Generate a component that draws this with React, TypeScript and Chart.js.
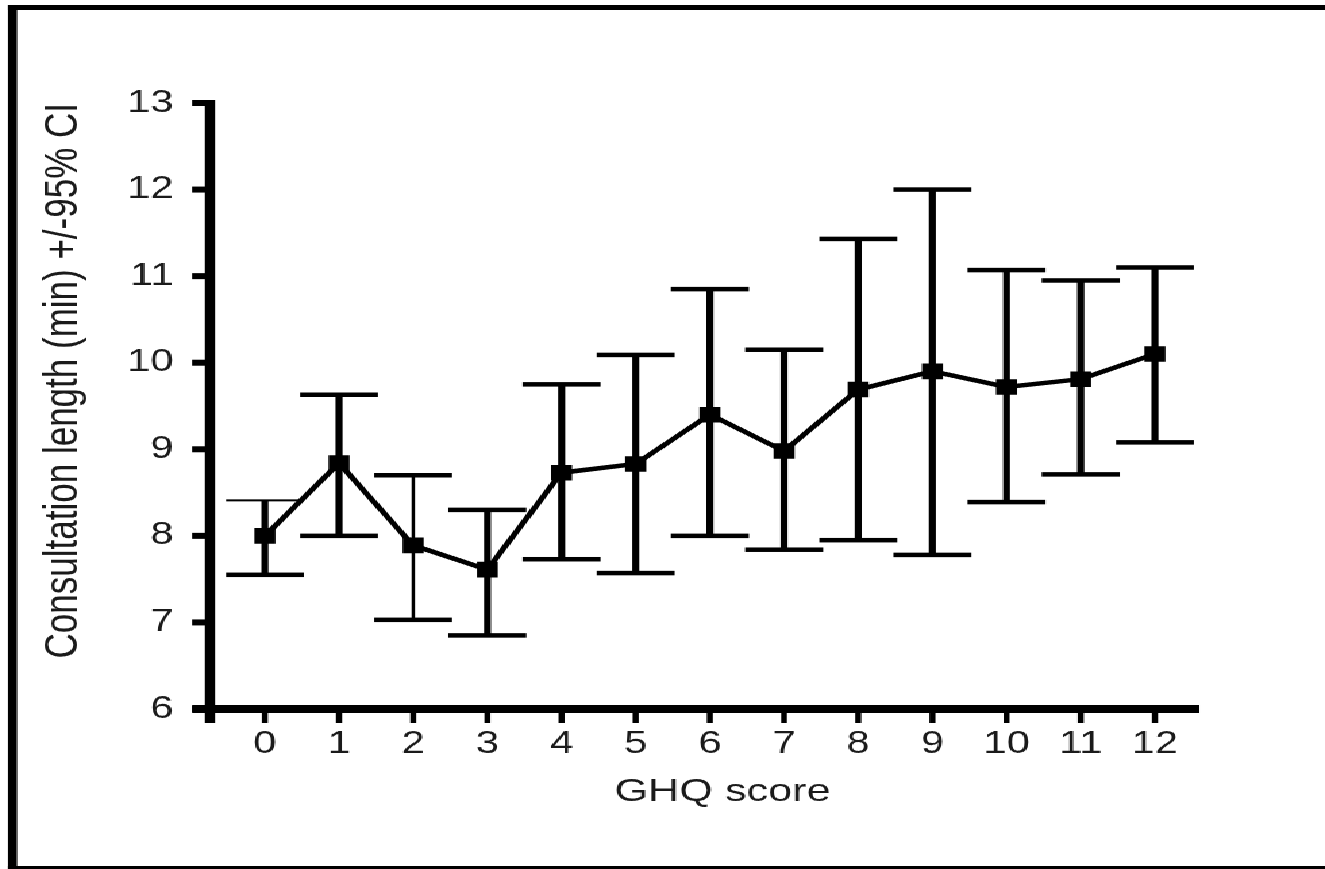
import { useEffect, useRef } from 'react';
import { Chart, registerables } from 'chart.js';

Chart.register(...registerables);

// ---- data ----
const ghqScores = [0, 1, 2, 3, 4, 5, 6, 7, 8, 9, 10, 11, 12];
const meanLength = [8.0, 8.84, 7.89, 7.61, 8.73, 8.83, 9.4, 8.98, 9.69, 9.9, 9.72, 9.81, 10.1];
const ciUpper = [8.41, 9.63, 8.7, 8.3, 9.75, 10.09, 10.85, 10.15, 11.43, 12.0, 11.07, 10.95, 11.1];
const ciLower = [7.55, 8.0, 7.03, 6.85, 7.73, 7.57, 8.0, 7.84, 7.95, 7.78, 8.39, 8.71, 9.08];
const xTickValues = [0, 1, 2, 3, 4, 5, 6, 7, 8, 9, 10, 11, 12];
const yTickValues = [6, 7, 8, 9, 10, 11, 12, 13];
const xTitle = 'GHQ score';
const yTitle = 'Consultation length (min) +/-95% CI';

// ---- layout (the reference is horizontally stretched; the canvas is drawn narrow and widened) ----
const PAGE_W = 1325;
const PAGE_H = 869;
const CANVAS_W = Math.round(PAGE_W / 1.35);
const S = PAGE_W / CANVAS_W;
const rx = (v: number) => v / S;

const FONT = "'Liberation Sans', Arial, Helvetica, sans-serif";
const NARROW = "'Liberation Sans Narrow', 'Liberation Sans', Arial, sans-serif";
const INK = '#000';
const TEXT = '#1a1a1a';

const framePlugin = {
  id: 'frame',
  beforeDraw(chart: any) {
    const ctx = chart.ctx;
    ctx.save();
    ctx.fillStyle = '#fff';
    ctx.fillRect(0, 0, chart.width, chart.height);
    ctx.fillStyle = INK;
    ctx.fillRect(rx(8), 5, rx(9), PAGE_H - 5);
    ctx.fillRect(rx(8), 5, chart.width, 5);
    ctx.fillRect(rx(8), 866, chart.width, 3);
    ctx.restore();
  },
};

const axesAndBarsPlugin = {
  id: 'axesAndBars',
  beforeDatasetsDraw(chart: any, _args: any, opts: any) {
    const ctx = chart.ctx;
    const xs = chart.scales.x;
    const ys = chart.scales.y;
    const x0 = chart.chartArea.left;
    const yTop = ys.getPixelForValue(yTickValues[yTickValues.length - 1]);
    const yb = ys.getPixelForValue(yTickValues[0]);
    ctx.save();
    ctx.fillStyle = INK;
    // y axis line (extends slightly below the x axis)
    ctx.fillRect(x0 - rx(5), yTop - 3, rx(10), yb + 14 - (yTop - 3));
    // x axis line
    const xEnd = xs.getPixelForValue(12.6);
    ctx.fillRect(x0 - rx(18), yb - 4, xEnd - (x0 - rx(18)), 8);
    // y ticks
    ys.ticks.forEach((t: any) => {
      const py = ys.getPixelForValue(t.value);
      ctx.fillRect(x0 - rx(18), py - 3, rx(18), 6);
    });
    // x ticks
    xs.ticks.forEach((t: any) => {
      const px = xs.getPixelForValue(t.value);
      ctx.fillRect(px - rx(3), yb + 4, rx(6), 10);
    });
    // error bars
    const capHalf = rx(39);
    opts.upper.forEach((u: number, i: number) => {
      const px = xs.getPixelForValue(opts.xs[i]);
      const pu = ys.getPixelForValue(u);
      const pl = ys.getPixelForValue(opts.lower[i]);
      const stemW = opts.thinStems.includes(i) ? rx(3.3) : rx(7);
      ctx.fillRect(px - stemW / 2, pu, stemW, pl - pu);
      const capU = opts.thinUpperCaps.includes(i) ? 2 : 4.5;
      ctx.fillRect(px - capHalf, pu - capU / 2, capHalf * 2, capU);
      ctx.fillRect(px - capHalf, pl - 2.25, capHalf * 2, 4.5);
    });
    ctx.restore();
  },
};

export default function App() {
  const ref = useRef<HTMLCanvasElement | null>(null);

  useEffect(() => {
    if (!ref.current) return;
    const chart = new Chart(ref.current, {
      type: 'line',
      data: {
        datasets: [
          {
            data: ghqScores.map((g, i) => ({ x: g, y: meanLength[i] })),
            borderColor: INK,
            backgroundColor: INK,
            borderWidth: 4.5,
            pointStyle: 'rect',
            pointRadius: 11,
            pointBorderWidth: 0,
            pointBackgroundColor: INK,
            tension: 0,
          },
        ],
      },
      options: {
        animation: false,
        responsive: false,
        devicePixelRatio: 1,
        layout: { padding: { left: 0, top: 103, right: CANVAS_W - rx(1235), bottom: 0 } },
        plugins: {
          legend: { display: false },
          tooltip: { enabled: false },
          axesAndBars: {
            xs: ghqScores,
            upper: ciUpper,
            lower: ciLower,
            thinStems: [2],
            thinUpperCaps: [0],
          },
        } as any,
        scales: {
          x: {
            type: 'linear',
            min: -0.74,
            max: 13.08,
            afterFit(s: any) {
              s.height = PAGE_H - 709;
            },
            afterBuildTicks(s: any) {
              s.ticks = xTickValues.map((v) => ({ value: v }));
            },
            grid: { display: false, drawTicks: false },
            border: { display: false },
            ticks: {
              padding: 17,
              autoSkip: false,
              maxRotation: 0,
              color: TEXT,
              font: { family: FONT, size: 31 },
              callback: (v: any) => String(v),
            },
            title: {
              display: true,
              text: xTitle,
              color: TEXT,
              font: { family: FONT, size: 32 },
              padding: { top: 0, bottom: 58 },
            },
          },
          y: {
            type: 'linear',
            min: 6,
            max: 13,
            afterFit(s: any) {
              s.width = rx(210);
            },
            afterBuildTicks(s: any) {
              s.ticks = yTickValues.map((v) => ({ value: v }));
            },
            grid: { display: false, drawTicks: false },
            border: { display: false },
            ticks: {
              padding: 27,
              color: TEXT,
              font: { family: FONT, size: 31 },
              callback: (v: any) => String(v),
            },
            title: {
              display: true,
              text: yTitle,
              align: 'end',
              color: TEXT,
              font: { family: NARROW, size: 35 },
              padding: { top: 26.6, bottom: 0 },
            },
          },
        },
      } as any,
      plugins: [framePlugin, axesAndBarsPlugin],
    });
    return () => chart.destroy();
  }, []);

  return (
    <div style={{ position: 'fixed', left: 0, top: 0, width: PAGE_W, height: PAGE_H, background: '#fff' }}>
      <canvas
        ref={ref}
        width={CANVAS_W}
        height={PAGE_H}
        style={{ width: PAGE_W + 'px', height: PAGE_H + 'px', display: 'block', imageRendering: 'pixelated' }}
      />
    </div>
  );
}
